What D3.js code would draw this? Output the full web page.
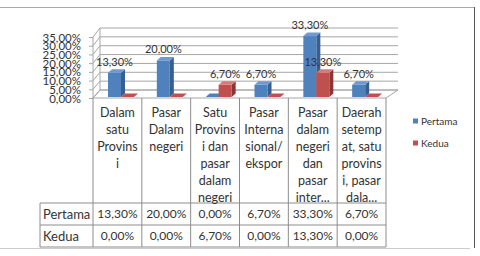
<!DOCTYPE html>
<html>
<head>
<meta charset="utf-8">
<script src="https://cdn.jsdelivr.net/npm/d3@7"></script>
<style>
  body { margin: 0; background: #fff; }
  text { font-family: Lato, "Open Sans", sans-serif; fill: #333; }
</style>
</head>
<body>
<script>
// data
var categories = [
  ["Dalam", "satu", "Provins", "i"],
  ["Pasar", "Dalam", "negeri"],
  ["Satu", "Provins", "i dan", "pasar", "dalam", "negeri"],
  ["Pasar", "Interna", "sional/", "ekspor"],
  ["Pasar", "dalam", "negeri", "dan", "pasar", "inter..."],
  ["Daerah", "setemp", "at, satu", "provins", "i, pasar", "dala..."]
];
var seriesNames = ["Pertama", "Kedua"];
var pertama = [13.3, 20.0, 0.0, 6.7, 33.3, 6.7];
var kedua = [0.0, 0.0, 6.7, 0.0, 13.3, 0.0];
var yTicks = [0, 5, 10, 15, 20, 25, 30, 35];
var colors = {
  Pertama: {front: "#4f81bd", side: "#375f91", top: "#7199cf"},
  Kedua: {front: "#c0504d", side: "#8c3634", top: "#d77a77"}
};

var series = [pertama, kedua];
var fmt = function(v) { return v.toFixed(2).replace(".", ",") + "%"; };

var svg = d3.select("body").append("svg")
    .attr("width", 480)
    .attr("height", 256);

svg.append("rect").attr("width", 480).attr("height", 256).attr("fill", "#fff");

// outer frame of the chart object
svg.append("line").attr("x1", 0).attr("x2", 474).attr("y1", 7.5).attr("y2", 7.5)
  .attr("stroke", "#aaa");
svg.append("line").attr("x1", 474.5).attr("x2", 474.5).attr("y1", 7).attr("y2", 248)
  .attr("stroke", "#555");
svg.append("line").attr("x1", 0).attr("x2", 470).attr("y1", 248.5).attr("y2", 248.5)
  .attr("stroke", "#ccc");

var x = d3.scaleBand().domain(d3.range(categories.length)).range([93, 386]);
var xBack = d3.scaleLinear().domain([93, 386]).range([100, 398]);
var yFront = d3.scaleLinear().domain([0, 35]).range([98, 37]);
var yBack = d3.scaleLinear().domain([0, 35]).range([90, 28]);
var yBar = d3.scaleLinear().domain([0, 35]).range([97, 33]);

var grid = svg.append("g").attr("fill", "none").attr("stroke", "#a6a6a6");

// left wall + back wall gridlines
yTicks.forEach(function(t) {
  grid.append("path")
    .attr("d", "M93," + yFront(t) + "L" + xBack(93) + "," + yBack(t) + "L" + xBack(386) + "," + yBack(t));
});
grid.append("line").attr("x1", 93).attr("x2", 93).attr("y1", yFront(0)).attr("y2", yFront(35));
grid.append("line").attr("x1", xBack(93)).attr("x2", xBack(93)).attr("y1", yBack(0)).attr("y2", yBack(35));

// floor
grid.append("path")
  .attr("d", "M93," + yFront(0) + "L386," + yFront(0) + "L" + xBack(386) + "," + yBack(0) +
    "L" + xBack(93) + "," + yBack(0) + "Z");

// y axis
var yAxis = svg.append("g")
  .attr("transform", "translate(93,0)")
  .call(d3.axisLeft(yFront).tickValues(yTicks).tickFormat(fmt).tickSize(4).tickPadding(8));
yAxis.select(".domain").remove();
yAxis.selectAll(".tick line").attr("stroke", "#a6a6a6");
yAxis.selectAll("text").style("font-size", "11.5px").style("fill", "#333")
  .style("font-family", "Lato, sans-serif").attr("dy", "0.36em");

// 3D bars
var dx = 4, dy = 3.5, bw = 13, off = 15;
var bars = svg.append("g");
categories.forEach(function(c, i) {
  series.forEach(function(vals, s) {
    var v = vals[i];
    var col = colors[seriesNames[s]];
    var x0 = x(i) + off + s * bw;
    var x1 = x0 + bw;
    var top = yBar(v), base = yBar(0);
    if (v > 0) {
      bars.append("path").attr("fill", col.side)
        .attr("d", "M" + x1 + "," + top + "L" + (x1 + dx) + "," + (top - dy) + "L" + (x1 + dx) + "," + (base - dy) + "L" + x1 + "," + base + "Z");
      bars.append("rect").attr("fill", col.front)
        .attr("x", x0).attr("y", top).attr("width", bw).attr("height", base - top);
    }
    bars.append("path").attr("fill", v > 0 ? col.top : col.front)
      .attr("d", "M" + x0 + "," + top + "L" + (x0 + dx) + "," + (top - dy) + "L" + (x1 + dx) + "," + (top - dy) + "L" + x1 + "," + top + "Z");
  });
});

// data labels (only non-zero)
categories.forEach(function(c, i) {
  series.forEach(function(vals, s) {
    var v = vals[i];
    if (v <= 0) return;
    svg.append("text")
      .attr("x", x(i) + off + s * bw + bw / 2)
      .attr("y", yBar(v) - 11)
      .attr("dy", "0.36em")
      .attr("text-anchor", "middle")
      .style("font-size", "11px")
      .text(fmt(v));
  });
});

// data table
var rowY = [98, 203, 225, 247];
var tbl = svg.append("g").attr("stroke", "#8c8c8c").attr("fill", "none");
d3.range(categories.length + 1).forEach(function(i) {
  var xx = i < categories.length ? x(i) : x(categories.length - 1) + x.bandwidth();
  tbl.append("line").attr("x1", xx).attr("x2", xx).attr("y1", rowY[0]).attr("y2", rowY[3]);
});
tbl.append("line").attr("x1", 40).attr("x2", 40).attr("y1", rowY[1]).attr("y2", rowY[3]);
[rowY[1], rowY[2], rowY[3]].forEach(function(yy) {
  tbl.append("line").attr("x1", 40).attr("x2", 386).attr("y1", yy).attr("y2", yy);
});

categories.forEach(function(lines, i) {
  lines.forEach(function(l, k) {
    svg.append("text")
      .attr("x", x(i) + x.bandwidth() / 2)
      .attr("y", 112 + k * 17)
      .attr("dy", "0.36em")
      .attr("text-anchor", "middle")
      .style("font-size", "12.5px")
      .text(l);
  });
});

series.forEach(function(vals, s) {
  var cy = (rowY[s + 1] + rowY[s + 2]) / 2;
  svg.append("text")
    .attr("x", 43).attr("y", cy).attr("dy", "0.36em")
    .style("font-size", "13px")
    .text(seriesNames[s]);
  vals.forEach(function(v, i) {
    svg.append("text")
      .attr("x", x(i) + x.bandwidth() / 2).attr("y", cy).attr("dy", "0.36em")
      .attr("text-anchor", "middle")
      .style("font-size", "12px")
      .text(fmt(v));
  });
});

// legend
seriesNames.forEach(function(n, s) {
  var ly = 121 + s * 22;
  svg.append("rect").attr("x", 413).attr("y", ly - 2.5).attr("width", 5).attr("height", 5)
    .attr("fill", colors[n].front);
  svg.append("text").attr("x", 421).attr("y", ly).attr("dy", "0.36em")
    .style("font-size", "10px").text(n);
});
</script>
</body>
</html>
